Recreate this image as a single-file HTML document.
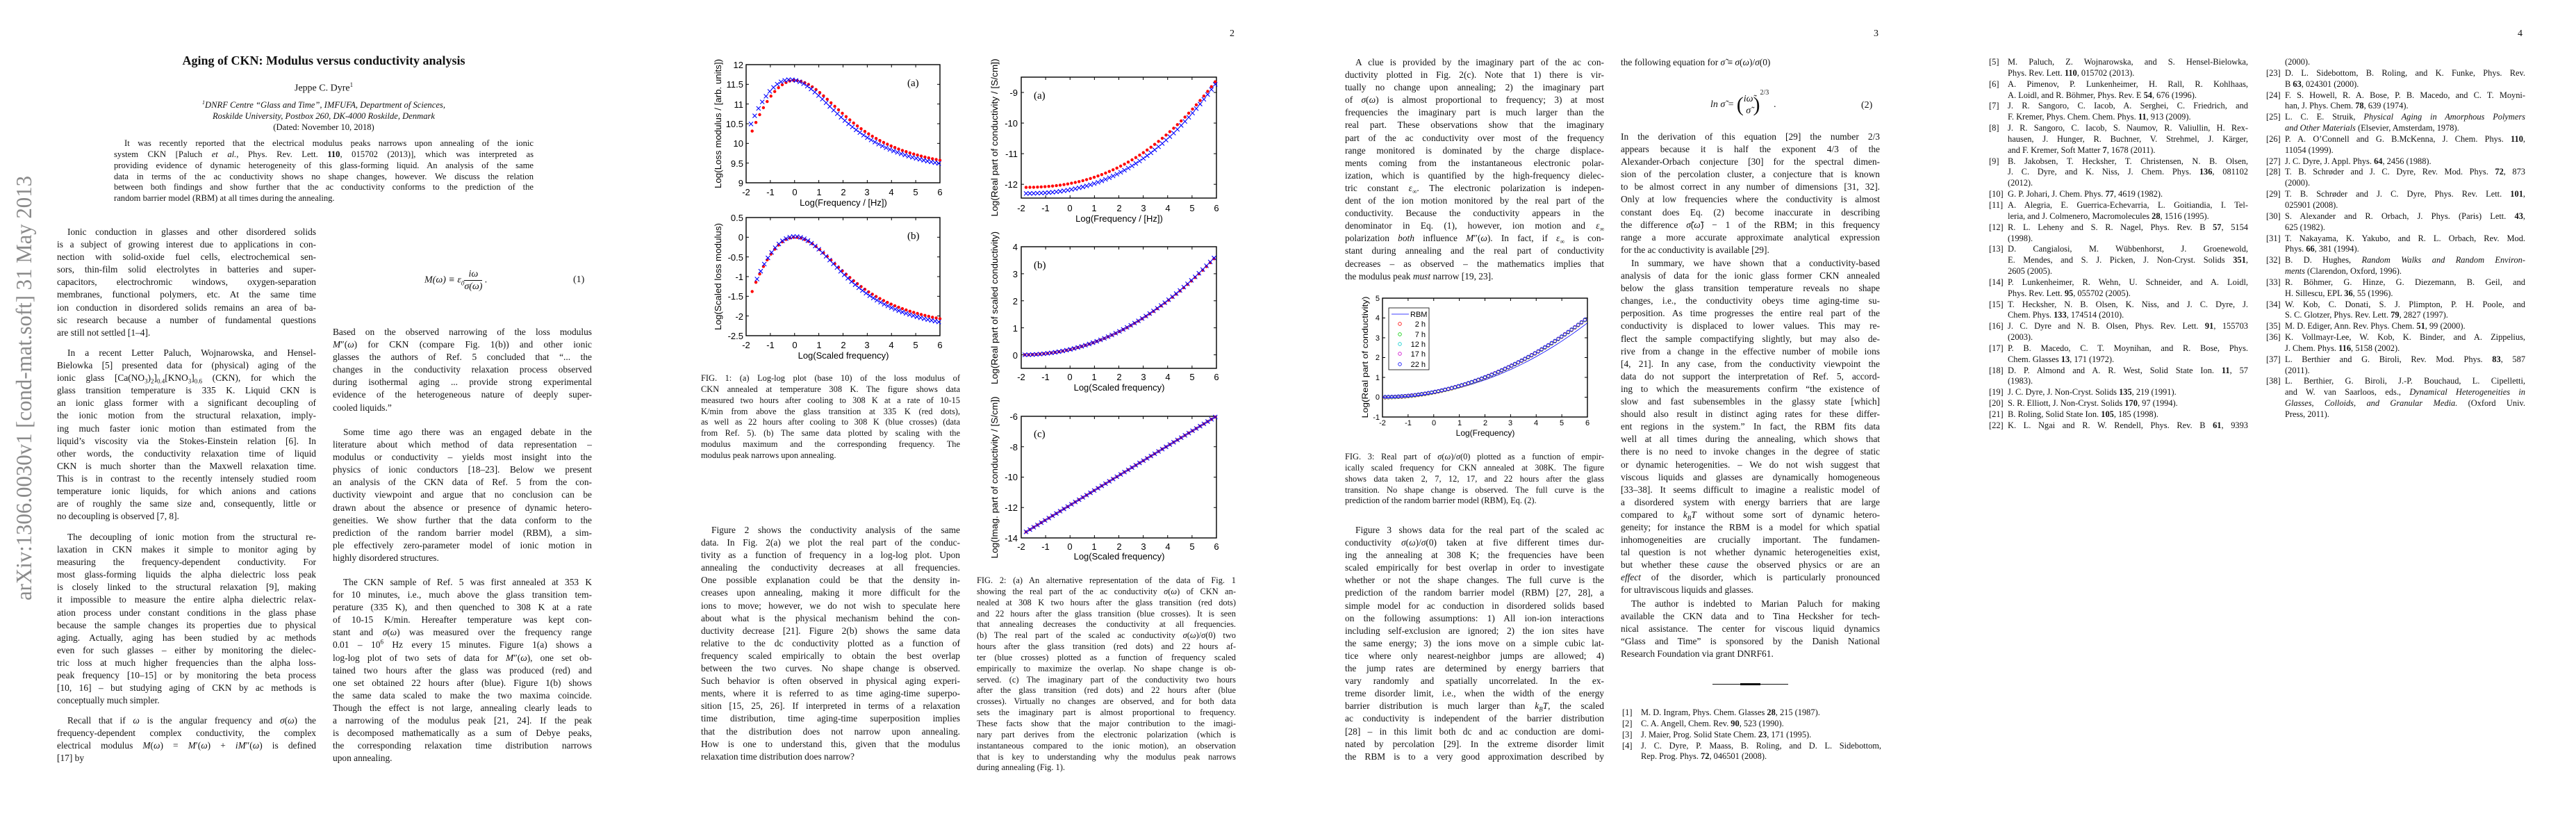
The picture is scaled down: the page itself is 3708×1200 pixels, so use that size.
<!DOCTYPE html>
<html><head><meta charset="utf-8">
<style>
html,body{margin:0;padding:0;background:#fff;}
body{width:3708px;height:1200px;position:relative;overflow:hidden;font-family:"Liberation Serif",serif;color:#111;}
.b{position:absolute;width:373px;font-size:13.4px;line-height:18.1px;}
.b div{text-align:justify;text-align-last:justify;white-space:normal;height:18.1px;overflow:visible;}
.b div.e{text-align-last:left;}
.b div.i{text-indent:15px;}
.c{position:absolute;width:373px;font-size:12.4px;line-height:15.85px;}
.c div{text-align:justify;text-align-last:justify;height:15.85px;}
.c div.e{text-align-last:left;}
.r{position:absolute;width:373px;font-size:12.4px;line-height:15.85px;}
.r div{padding-left:27px;position:relative;text-align:justify;text-align-last:justify;height:15.85px;}
.r div.e{text-align-last:left;}
.r div span.n{position:absolute;left:0;width:24px;text-align:right;}
.pn{position:absolute;font-size:14px;top:41px;}
i{font-style:italic;}
.eq{position:absolute;font-size:14px;font-style:italic;white-space:nowrap;}
.fr{display:inline-block;vertical-align:middle;text-align:center;}
.fr span{display:block;line-height:17px;}
.fr span.d{border-top:1px solid #111;}
</style></head><body>

<!-- PAGE 1 -->
<div style="position:absolute;left:0;top:77px;width:932px;text-align:center;font-size:18px;font-weight:bold;">Aging of CKN: Modulus versus conductivity analysis</div>
<div style="position:absolute;left:0;top:117px;width:932px;text-align:center;font-size:14px;">Jeppe C. Dyre<sup style="font-size:9px">1</sup></div>
<div style="position:absolute;left:0;top:140px;width:932px;text-align:center;font-size:12.6px;line-height:16px;"><i><sup style="font-size:8px">1</sup>DNRF Centre “Glass and Time”, IMFUFA, Department of Sciences,<br>Roskilde University, Postbox 260, DK-4000 Roskilde, Denmark</i><br>(Dated: November 10, 2018)</div>
<div class="c" style="left:164px;top:199px;width:604px;font-size:12.6px;line-height:15.7px;">
<div style="text-indent:15px">It was recently reported that the electrical modulus peaks narrows upon annealing of the ionic</div>
<div>system CKN [Paluch <i>et al.</i>, Phys. Rev. Lett. <b>110</b>, 015702 (2013)], which was interpreted as</div>
<div>providing evidence of dynamic heterogeneity of this glass-forming liquid. An analysis of the same</div>
<div>data in terms of the ac conductivity shows no shape changes, however. We discuss the relation</div>
<div>between both findings and show further that the ac conductivity conforms to the prediction of the</div>
<div class="e">random barrier model (RBM) at all times during the annealing.</div>
</div>

<div class="b" style="left:82px;top:325px;">
<div class="i">Ionic conduction in glasses and other disordered solids</div>
<div>is a subject of growing interest due to applications in con-</div>
<div>nection with solid-oxide fuel cells, electrochemical sen-</div>
<div>sors, thin-film solid electrolytes in batteries and super-</div>
<div>capacitors, electrochromic windows, oxygen-separation</div>
<div>membranes, functional polymers, etc. At the same time</div>
<div>ion conduction in disordered solids remains an area of ba-</div>
<div>sic research because a number of fundamental questions</div>
<div class="e">are still not settled [1–4].</div>
</div>
<div class="b" style="left:82px;top:499px;">
<div class="i">In a recent Letter Paluch, Wojnarowska, and Hensel-</div>
<div>Bielowka [5] presented data for (physical) aging of the</div>
<div>ionic glass [Ca(NO<sub style="font-size:9px">3</sub>)<sub style="font-size:9px">2</sub>]<sub style="font-size:9px">0.4</sub>[KNO<sub style="font-size:9px">3</sub>]<sub style="font-size:9px">0.6</sub> (CKN), for which the</div>
<div>glass transition temperature is 335 K. Liquid CKN is</div>
<div>an ionic glass former with a significant decoupling of</div>
<div>the ionic motion from the structural relaxation, imply-</div>
<div>ing much faster ionic motion than estimated from the</div>
<div>liquid’s viscosity via the Stokes-Einstein relation [6]. In</div>
<div>other words, the conductivity relaxation time of liquid</div>
<div>CKN is much shorter than the Maxwell relaxation time.</div>
<div>This is in contrast to the recently intensely studied room</div>
<div>temperature ionic liquids, for which anions and cations</div>
<div>are of roughly the same size and, consequently, little or</div>
<div class="e">no decoupling is observed [7, 8].</div>
</div>
<div class="b" style="left:82px;top:764px;">
<div class="i">The decoupling of ionic motion from the structural re-</div>
<div>laxation in CKN makes it simple to monitor aging by</div>
<div>measuring the frequency-dependent conductivity. For</div>
<div>most glass-forming liquids the alpha dielectric loss peak</div>
<div>is closely linked to the structural relaxation [9], making</div>
<div>it impossible to measure the entire alpha dielectric relax-</div>
<div>ation process under constant conditions in the glass phase</div>
<div>because the sample changes its properties due to physical</div>
<div>aging. Actually, aging has been studied by ac methods</div>
<div>even for such glasses – either by monitoring the dielec-</div>
<div>tric loss at much higher frequencies than the alpha loss-</div>
<div>peak frequency [10–15] or by monitoring the beta process</div>
<div>[10, 16] – but studying aging of CKN by ac methods is</div>
<div class="e">conceptually much simpler.</div>
</div>
<div class="b" style="left:82px;top:1028px;">
<div class="i">Recall that if <i>ω</i> is the angular frequency and <i>σ</i>(<i>ω</i>) the</div>
<div>frequency-dependent complex conductivity, the complex</div>
<div>electrical modulus <i>M</i>(<i>ω</i>) = <i>M</i>′(<i>ω</i>) + <i>iM</i>″(<i>ω</i>) is defined</div>
<div class="e">[17] by</div>
</div>

<div class="eq" style="left:611px;top:386px;">M(ω) ≡ ε<sub style="font-size:9px">0</sub><span class="fr"><span>iω</span><span class="d">σ(ω)</span></span> .</div>
<div style="position:absolute;left:825px;top:395px;font-size:14px;">(1)</div>

<div class="b" style="left:479px;top:469px;">
<div>Based on the observed narrowing of the loss modulus</div>
<div><i>M</i>″(<i>ω</i>) for CKN (compare Fig. 1(b)) and other ionic</div>
<div>glasses the authors of Ref. 5 concluded that “... the</div>
<div>changes in the conductivity relaxation process observed</div>
<div>during isothermal aging ... provide strong experimental</div>
<div>evidence of the heterogeneous nature of deeply super-</div>
<div class="e">cooled liquids.”</div>
</div>
<div class="b" style="left:479px;top:613px;">
<div class="i">Some time ago there was an engaged debate in the</div>
<div>literature about which method of data representation –</div>
<div>modulus or conductivity – yields most insight into the</div>
<div>physics of ionic conductors [18–23]. Below we present</div>
<div>an analysis of the CKN data of Ref. 5 from the con-</div>
<div>ductivity viewpoint and argue that no conclusion can be</div>
<div>drawn about the absence or presence of dynamic hetero-</div>
<div>geneities. We show further that the data conform to the</div>
<div>prediction of the random barrier model (RBM), a sim-</div>
<div>ple effectively zero-parameter model of ionic motion in</div>
<div class="e">highly disordered structures.</div>
</div>
<div class="b" style="left:479px;top:829px;">
<div class="i">The CKN sample of Ref. 5 was first annealed at 353 K</div>
<div>for 10 minutes, i.e., much above the glass transition tem-</div>
<div>perature (335 K), and then quenched to 308 K at a rate</div>
<div>of 10-15 K/min. Hereafter temperature was kept con-</div>
<div>stant and <i>σ</i>(<i>ω</i>) was measured over the frequency range</div>
<div>0.01 – 10<sup style="font-size:9px;line-height:0">6</sup> Hz every 15 minutes. Figure 1(a) shows a</div>
<div>log-log plot of two sets of data for <i>M</i>″(<i>ω</i>), one set ob-</div>
<div>tained two hours after the glass was produced (red) and</div>
<div>one set obtained 22 hours after (blue). Figure 1(b) shows</div>
<div>the same data scaled to make the two maxima coincide.</div>
<div>Though the effect is not large, annealing clearly leads to</div>
<div>a narrowing of the modulus peak [21, 24]. If the peak</div>
<div>is decomposed mathematically as a sum of Debye peaks,</div>
<div>the corresponding relaxation time distribution narrows</div>
<div class="e">upon annealing.</div>
</div>

<!-- PAGE 2 -->
<div class="pn" style="left:1770px;">2</div>
<div class="c" style="left:1009px;top:537px;">
<div>FIG. 1: (a) Log-log plot (base 10) of the loss modulus of</div>
<div>CKN annealed at temperature 308 K. The figure shows data</div>
<div>measured two hours after cooling to 308 K at a rate of 10-15</div>
<div>K/min from above the glass transition at 335 K (red dots),</div>
<div>as well as 22 hours after cooling to 308 K (blue crosses) (data</div>
<div>from Ref. 5). (b) The same data plotted by scaling with the</div>
<div>modulus maximum and the corresponding frequency. The</div>
<div class="e">modulus peak narrows upon annealing.</div>
</div>
<div class="b" style="left:1009px;top:754px;">
<div class="i">Figure 2 shows the conductivity analysis of the same</div>
<div>data. In Fig. 2(a) we plot the real part of the conduc-</div>
<div>tivity as a function of frequency in a log-log plot. Upon</div>
<div>annealing the conductivity decreases at all frequencies.</div>
<div>One possible explanation could be that the density in-</div>
<div>creases upon annealing, making it more difficult for the</div>
<div>ions to move; however, we do not wish to speculate here</div>
<div>about what is the physical mechanism behind the con-</div>
<div>ductivity decrease [21]. Figure 2(b) shows the same data</div>
<div>relative to the dc conductivity plotted as a function of</div>
<div>frequency scaled empirically to obtain the best overlap</div>
<div>between the two curves. No shape change is observed.</div>
<div>Such behavior is often observed in physical aging experi-</div>
<div>ments, where it is referred to as time aging-time superpo-</div>
<div>sition [15, 25, 26]. If interpreted in terms of a relaxation</div>
<div>time distribution, time aging-time superposition implies</div>
<div>that the distribution does not narrow upon annealing.</div>
<div>How is one to understand this, given that the modulus</div>
<div class="e">relaxation time distribution does narrow?</div>
</div>
<div class="c" style="left:1406px;top:828px;">
<div>FIG. 2: (a) An alternative representation of the data of Fig. 1</div>
<div>showing the real part of the ac conductivity <i>σ</i>(<i>ω</i>) of CKN an-</div>
<div>nealed at 308 K two hours after the glass transition (red dots)</div>
<div>and 22 hours after the glass transition (blue crosses). It is seen</div>
<div>that annealing decreases the conductivity at all frequencies.</div>
<div>(b) The real part of the scaled ac conductivity <i>σ</i>(<i>ω</i>)/<i>σ</i>(0) two</div>
<div>hours after the glass transition (red dots) and 22 hours af-</div>
<div>ter (blue crosses) plotted as a function of frequency scaled</div>
<div>empirically to maximize the overlap. No shape change is ob-</div>
<div>served. (c) The imaginary part of the conductivity two hours</div>
<div>after the glass transition (red dots) and 22 hours after (blue</div>
<div>crosses). Virtually no changes are observed, and for both data</div>
<div>sets the imaginary part is almost proportional to frequency.</div>
<div>These facts show that the major contribution to the imagi-</div>
<div>nary part derives from the electronic polarization (which is</div>
<div>instantaneous compared to the ionic motion), an observation</div>
<div>that is key to understanding why the modulus peak narrows</div>
<div class="e">during annealing (Fig. 1).</div>
</div>

<!-- PAGE 3 -->
<div class="pn" style="left:2697px;">3</div>
<div class="b" style="left:1936px;top:81px;">
<div class="i">A clue is provided by the imaginary part of the ac con-</div>
<div>ductivity plotted in Fig. 2(c). Note that 1) there is vir-</div>
<div>tually no change upon annealing; 2) the imaginary part</div>
<div>of <i>σ</i>(<i>ω</i>) is almost proportional to frequency; 3) at most</div>
<div>frequencies the imaginary part is much larger than the</div>
<div>real part. These observations show that the imaginary</div>
<div>part of the ac conductivity over most of the frequency</div>
<div>range monitored is dominated by the charge displace-</div>
<div>ments coming from the instantaneous electronic polar-</div>
<div>ization, which is quantified by the high-frequency dielec-</div>
<div>tric constant <i>ε</i><sub style="font-size:9px">∞</sub>. The electronic polarization is indepen-</div>
<div>dent of the ion motion monitored by the real part of the</div>
<div>conductivity. Because the conductivity appears in the</div>
<div>denominator in Eq. (1), however, ion motion and <i>ε</i><sub style="font-size:9px">∞</sub></div>
<div>polarization <i>both</i> influence <i>M</i>″(<i>ω</i>). In fact, if <i>ε</i><sub style="font-size:9px">∞</sub> is con-</div>
<div>stant during annealing and the real part of conductivity</div>
<div>decreases – as observed – the mathematics implies that</div>
<div class="e">the modulus peak <i>must</i> narrow [19, 23].</div>
</div>
<div class="c" style="left:1936px;top:650px;">
<div>FIG. 3: Real part of <i>σ</i>(<i>ω</i>)/<i>σ</i>(0) plotted as a function of empir-</div>
<div>ically scaled frequency for CKN annealed at 308K. The figure</div>
<div>shows data taken 2, 7, 12, 17, and 22 hours after the glass</div>
<div>transition. No shape change is observed. The full curve is the</div>
<div class="e">prediction of the random barrier model (RBM), Eq. (2).</div>
</div>
<div class="b" style="left:1936px;top:754px;">
<div class="i">Figure 3 shows data for the real part of the scaled ac</div>
<div>conductivity <i>σ</i>(<i>ω</i>)/<i>σ</i>(0) taken at five different times dur-</div>
<div>ing the annealing at 308 K; the frequencies have been</div>
<div>scaled empirically for best overlap in order to investigate</div>
<div>whether or not the shape changes. The full curve is the</div>
<div>prediction of the random barrier model (RBM) [27, 28], a</div>
<div>simple model for ac conduction in disordered solids based</div>
<div>on the following assumptions: 1) All ion-ion interactions</div>
<div>including self-exclusion are ignored; 2) the ion sites have</div>
<div>the same energy; 3) the ions move on a simple cubic lat-</div>
<div>tice where only nearest-neighbor jumps are allowed; 4)</div>
<div>the jump rates are determined by energy barriers that</div>
<div>vary randomly and spatially uncorrelated. In the ex-</div>
<div>treme disorder limit, i.e., when the width of the energy</div>
<div>barrier distribution is much larger than <i>k<sub style="font-size:9px">B</sub>T</i>, the scaled</div>
<div>ac conductivity is independent of the barrier distribution</div>
<div>[28] – in this limit both dc and ac conduction are domi-</div>
<div>nated by percolation [29]. In the extreme disorder limit</div>
<div>the RBM is to a very good approximation described by</div>
</div>
<div class="b" style="left:2333px;top:81px;">
<div class="e">the following equation for <i>σ̃</i> ≡ <i>σ</i>(<i>ω</i>)/<i>σ</i>(0)</div>
</div>
<div class="eq" style="left:2462px;top:128px;">ln σ̃ = <span style="font-size:30px;font-style:normal;vertical-align:middle">(</span><span class="fr"><span>iω̃</span><span class="d" style="border:none">σ̃</span></span><span style="font-size:30px;font-style:normal;vertical-align:middle">)</span><sup style="font-size:10px;font-style:normal;vertical-align:18px">2/3</sup> &nbsp;.</div>
<div style="position:absolute;left:2679px;top:144px;font-size:14px;">(2)</div>
<div class="b" style="left:2333px;top:188px;">
<div>In the derivation of this equation [29] the number 2/3</div>
<div>appears because it is half the exponent 4/3 of the</div>
<div>Alexander-Orbach conjecture [30] for the spectral dimen-</div>
<div>sion of the percolation cluster, a conjecture that is known</div>
<div>to be almost correct in any number of dimensions [31, 32].</div>
<div>Only at low frequencies where the conductivity is almost</div>
<div>constant does Eq. (2) become inaccurate in describing</div>
<div>the difference <i>σ̃</i>(<i>ω̃</i>) − 1 of the RBM; in this frequency</div>
<div>range a more accurate approximate analytical expression</div>
<div class="e">for the ac conductivity is available [29].</div>
</div>
<div class="b" style="left:2333px;top:370px;">
<div class="i">In summary, we have shown that a conductivity-based</div>
<div>analysis of data for the ionic glass former CKN annealed</div>
<div>below the glass transition temperature reveals no shape</div>
<div>changes, i.e., the conductivity obeys time aging-time su-</div>
<div>perposition. As time progresses the entire real part of the</div>
<div>conductivity is displaced to lower values. This may re-</div>
<div>flect the sample compactifying slightly, but may also de-</div>
<div>rive from a change in the effective number of mobile ions</div>
<div>[4, 21]. In any case, from the conductivity viewpoint the</div>
<div>data do not support the interpretation of Ref. 5, accord-</div>
<div>ing to which the measurements confirm “the existence of</div>
<div>slow and fast subensembles in the glassy state [which]</div>
<div>should also result in distinct aging rates for these differ-</div>
<div>ent regions in the system.” In fact, the RBM fits data</div>
<div>well at all times during the annealing, which shows that</div>
<div>there is no need to invoke changes in the degree of static</div>
<div>or dynamic heterogenities. – We do not wish suggest that</div>
<div>viscous liquids and glasses are dynamically homogeneous</div>
<div>[33–38]. It seems difficult to imagine a realistic model of</div>
<div>a disordered system with energy barriers that are large</div>
<div>compared to <i>k<sub style="font-size:9px">B</sub>T</i> without some sort of dynamic hetero-</div>
<div>geneity; for instance the RBM is a model for which spatial</div>
<div>inhomogeneities are crucially important. The fundamen-</div>
<div>tal question is not whether dynamic heterogeneities exist,</div>
<div>but whether these <i>cause</i> the observed physics or are an</div>
<div><i>effect</i> of the disorder, which is particularly pronounced</div>
<div class="e">for ultraviscous liquids and glasses.</div>
</div>
<div class="b" style="left:2333px;top:860px;">
<div class="i">The author is indebted to Marian Paluch for making</div>
<div>available the CKN data and to Tina Hecksher for tech-</div>
<div>nical assistance. The center for viscous liquid dynamics</div>
<div>“Glass and Time” is sponsored by the Danish National</div>
<div class="e">Research Foundation via grant DNRF61.</div>
</div>
<div style="position:absolute;left:2465px;top:984px;width:109px;height:1px;background:#111;"></div>
<div style="position:absolute;left:2505px;top:983px;width:29px;height:3px;background:#111;"></div>
<div class="r" style="left:2335px;top:1018px;">
<div class="e"><span class="n">[1]</span>M. D. Ingram, Phys. Chem. Glasses <b>28</b>, 215 (1987).</div>
<div class="e"><span class="n">[2]</span>C. A. Angell, Chem. Rev. <b>90</b>, 523 (1990).</div>
<div class="e"><span class="n">[3]</span>J. Maier, Prog. Solid State Chem. <b>23</b>, 171 (1995).</div>
<div><span class="n">[4]</span>J. C. Dyre, P. Maass, B. Roling, and D. L. Sidebottom,</div>
<div class="e">Rep. Prog. Phys. <b>72</b>, 046501 (2008).</div>
</div>

<!-- PAGE 4 -->
<div class="pn" style="left:3624px;">4</div>
<div class="r" style="left:2863px;top:82px;">
<div><span class="n">[5]</span>M. Paluch, Z. Wojnarowska, and S. Hensel-Bielowka,</div>
<div class="e">Phys. Rev. Lett. <b>110</b>, 015702 (2013).</div>
<div><span class="n">[6]</span>A. Pimenov, P. Lunkenheimer, H. Rall, R. Kohlhaas,</div>
<div class="e">A. Loidl, and R. Böhmer, Phys. Rev. E <b>54</b>, 676 (1996).</div>
<div><span class="n">[7]</span>J. R. Sangoro, C. Iacob, A. Serghei, C. Friedrich, and</div>
<div class="e">F. Kremer, Phys. Chem. Chem. Phys. <b>11</b>, 913 (2009).</div>
<div><span class="n">[8]</span>J. R. Sangoro, C. Iacob, S. Naumov, R. Valiullin, H. Rex-</div>
<div>hausen, J. Hunger, R. Buchner, V. Strehmel, J. Kärger,</div>
<div class="e">and F. Kremer, Soft Matter <b>7</b>, 1678 (2011).</div>
<div><span class="n">[9]</span>B. Jakobsen, T. Hecksher, T. Christensen, N. B. Olsen,</div>
<div>J. C. Dyre, and K. Niss, J. Chem. Phys. <b>136</b>, 081102</div>
<div class="e">(2012).</div>
<div class="e"><span class="n">[10]</span>G. P. Johari, J. Chem. Phys. <b>77</b>, 4619 (1982).</div>
<div><span class="n">[11]</span>A. Alegria, E. Guerrica-Echevarria, L. Goitiandia, I. Tel-</div>
<div class="e">leria, and J. Colmenero, Macromolecules <b>28</b>, 1516 (1995).</div>
<div><span class="n">[12]</span>R. L. Leheny and S. R. Nagel, Phys. Rev. B <b>57</b>, 5154</div>
<div class="e">(1998).</div>
<div><span class="n">[13]</span>D. Cangialosi, M. Wübbenhorst, J. Groenewold,</div>
<div>E. Mendes, and S. J. Picken, J. Non-Cryst. Solids <b>351</b>,</div>
<div class="e">2605 (2005).</div>
<div><span class="n">[14]</span>P. Lunkenheimer, R. Wehn, U. Schneider, and A. Loidl,</div>
<div class="e">Phys. Rev. Lett. <b>95</b>, 055702 (2005).</div>
<div><span class="n">[15]</span>T. Hecksher, N. B. Olsen, K. Niss, and J. C. Dyre, J.</div>
<div class="e">Chem. Phys. <b>133</b>, 174514 (2010).</div>
<div><span class="n">[16]</span>J. C. Dyre and N. B. Olsen, Phys. Rev. Lett. <b>91</b>, 155703</div>
<div class="e">(2003).</div>
<div><span class="n">[17]</span>P. B. Macedo, C. T. Moynihan, and R. Bose, Phys.</div>
<div class="e">Chem. Glasses <b>13</b>, 171 (1972).</div>
<div><span class="n">[18]</span>D. P. Almond and A. R. West, Solid State Ion. <b>11</b>, 57</div>
<div class="e">(1983).</div>
<div class="e"><span class="n">[19]</span>J. C. Dyre, J. Non-Cryst. Solids <b>135</b>, 219 (1991).</div>
<div class="e"><span class="n">[20]</span>S. R. Elliott, J. Non-Cryst. Solids <b>170</b>, 97 (1994).</div>
<div class="e"><span class="n">[21]</span>B. Roling, Solid State Ion. <b>105</b>, 185 (1998).</div>
<div><span class="n">[22]</span>K. L. Ngai and R. W. Rendell, Phys. Rev. B <b>61</b>, 9393</div>
</div>
<div class="r" style="left:3262px;top:82px;">
<div class="e">(2000).</div>
<div><span class="n">[23]</span>D. L. Sidebottom, B. Roling, and K. Funke, Phys. Rev.</div>
<div class="e">B <b>63</b>, 024301 (2000).</div>
<div><span class="n">[24]</span>F. S. Howell, R. A. Bose, P. B. Macedo, and C. T. Moyni-</div>
<div class="e">han, J. Phys. Chem. <b>78</b>, 639 (1974).</div>
<div><span class="n">[25]</span>L. C. E. Struik, <i>Physical Aging in Amorphous Polymers</i></div>
<div class="e"><i>and Other Materials</i> (Elsevier, Amsterdam, 1978).</div>
<div><span class="n">[26]</span>P. A. O’Connell and G. B.McKenna, J. Chem. Phys. <b>110</b>,</div>
<div class="e">11054 (1999).</div>
<div class="e"><span class="n">[27]</span>J. C. Dyre, J. Appl. Phys. <b>64</b>, 2456 (1988).</div>
<div><span class="n">[28]</span>T. B. Schrøder and J. C. Dyre, Rev. Mod. Phys. <b>72</b>, 873</div>
<div class="e">(2000).</div>
<div><span class="n">[29]</span>T. B. Schrøder and J. C. Dyre, Phys. Rev. Lett. <b>101</b>,</div>
<div class="e">025901 (2008).</div>
<div><span class="n">[30]</span>S. Alexander and R. Orbach, J. Phys. (Paris) Lett. <b>43</b>,</div>
<div class="e">625 (1982).</div>
<div><span class="n">[31]</span>T. Nakayama, K. Yakubo, and R. L. Orbach, Rev. Mod.</div>
<div class="e">Phys. <b>66</b>, 381 (1994).</div>
<div><span class="n">[32]</span>B. D. Hughes, <i>Random Walks and Random Environ-</i></div>
<div class="e"><i>ments</i> (Clarendon, Oxford, 1996).</div>
<div><span class="n">[33]</span>R. Böhmer, G. Hinze, G. Diezemann, B. Geil, and</div>
<div class="e">H. Sillescu, EPL <b>36</b>, 55 (1996).</div>
<div><span class="n">[34]</span>W. Kob, C. Donati, S. J. Plimpton, P. H. Poole, and</div>
<div class="e">S. C. Glotzer, Phys. Rev. Lett. <b>79</b>, 2827 (1997).</div>
<div class="e"><span class="n">[35]</span>M. D. Ediger, Ann. Rev. Phys. Chem. <b>51</b>, 99 (2000).</div>
<div><span class="n">[36]</span>K. Vollmayr-Lee, W. Kob, K. Binder, and A. Zippelius,</div>
<div class="e">J. Chem. Phys. <b>116</b>, 5158 (2002).</div>
<div><span class="n">[37]</span>L. Berthier and G. Biroli, Rev. Mod. Phys. <b>83</b>, 587</div>
<div class="e">(2011).</div>
<div><span class="n">[38]</span>L. Berthier, G. Biroli, J.-P. Bouchaud, L. Cipelletti,</div>
<div>and W. van Saarloos, eds., <i>Dynamical Heterogeneities in</i></div>
<div><i>Glasses, Colloids, and Granular Media.</i> (Oxford Univ.</div>
<div class="e">Press, 2011).</div>
</div>

<!-- FIGURES & SIDEBAR -->
<svg id="S" width="3708" height="1200" style="position:absolute;left:0;top:0" xmlns="http://www.w3.org/2000/svg">
<text transform="translate(45,864) rotate(-90)" textLength="611" lengthAdjust="spacingAndGlyphs" font-family="Liberation Serif" font-size="32" fill="#8a8a8a">arXiv:1306.0030v1  [cond-mat.soft]  31 May 2013</text>
<g id="M"></g>
<g font-family="Liberation Sans" font-size="13" fill="#000">
<!-- 1a -->
<g text-anchor="end"><text x="1070" y="98">12</text><text x="1070" y="126">11.5</text><text x="1070" y="155">11</text><text x="1070" y="183">10.5</text><text x="1070" y="211">10</text><text x="1070" y="240">9.5</text><text x="1070" y="268">9</text></g>
<g text-anchor="middle"><text x="1074" y="281">-2</text><text x="1109" y="281">-1</text><text x="1144" y="281">0</text><text x="1179" y="281">1</text><text x="1214" y="281">2</text><text x="1248" y="281">3</text><text x="1283" y="281">4</text><text x="1318" y="281">5</text><text x="1353" y="281">6</text>
<text x="1214" y="296">Log(Frequency / [Hz])</text>
<text transform="translate(1038,178) rotate(-90)" textLength="186" lengthAdjust="spacingAndGlyphs">Log(Loss modulus / [arb. units])</text></g>
<text x="1306" y="124" font-family="Liberation Serif" font-size="15">(a)</text>
<!-- 1b -->
<g text-anchor="end"><text x="1070" y="318">0.5</text><text x="1070" y="346">0</text><text x="1070" y="375">-0.5</text><text x="1070" y="403">-1</text><text x="1070" y="431">-1.5</text><text x="1070" y="460">-2</text><text x="1070" y="488">-2.5</text></g>
<g text-anchor="middle"><text x="1074" y="501">-2</text><text x="1109" y="501">-1</text><text x="1144" y="501">0</text><text x="1179" y="501">1</text><text x="1214" y="501">2</text><text x="1248" y="501">3</text><text x="1283" y="501">4</text><text x="1318" y="501">5</text><text x="1353" y="501">6</text>
<text x="1214" y="516">Log(Scaled frequency)</text>
<text transform="translate(1038,398) rotate(-90)" textLength="154" lengthAdjust="spacingAndGlyphs">Log(Scaled loss modulus)</text></g>
<text x="1306" y="344" font-family="Liberation Serif" font-size="15">(b)</text>
<!-- 2a -->
<g text-anchor="end"><text x="1465" y="138">-9</text><text x="1465" y="182">-10</text><text x="1465" y="226">-11</text><text x="1465" y="270">-12</text></g>
<g text-anchor="middle"><text x="1470" y="304">-2</text><text x="1505" y="304">-1</text><text x="1540" y="304">0</text><text x="1575" y="304">1</text><text x="1611" y="304">2</text><text x="1646" y="304">3</text><text x="1681" y="304">4</text><text x="1716" y="304">5</text><text x="1751" y="304">6</text>
<text x="1611" y="319">Log(Frequency / [Hz])</text>
<text transform="translate(1436,198) rotate(-90)" textLength="227" lengthAdjust="spacingAndGlyphs">Log(Real part of conductivity / [S/cm])</text></g>
<text x="1488" y="142" font-family="Liberation Serif" font-size="15">(a)</text>
<!-- 2b -->
<g text-anchor="end"><text x="1465" y="360">4</text><text x="1465" y="399">3</text><text x="1465" y="438">2</text><text x="1465" y="477">1</text><text x="1465" y="516">0</text></g>
<g text-anchor="middle"><text x="1470" y="547">-2</text><text x="1505" y="547">-1</text><text x="1540" y="547">0</text><text x="1575" y="547">1</text><text x="1611" y="547">2</text><text x="1646" y="547">3</text><text x="1681" y="547">4</text><text x="1716" y="547">5</text><text x="1751" y="547">6</text>
<text x="1611" y="562">Log(Scaled frequency)</text>
<text transform="translate(1436,443) rotate(-90)" textLength="220" lengthAdjust="spacingAndGlyphs">Log(Real part of scaled conductivity)</text></g>
<text x="1488" y="386" font-family="Liberation Serif" font-size="15">(b)</text>
<!-- 2c -->
<g text-anchor="end"><text x="1465" y="604">-6</text><text x="1465" y="648">-8</text><text x="1465" y="691">-10</text><text x="1465" y="735">-12</text><text x="1465" y="779">-14</text></g>
<g text-anchor="middle"><text x="1470" y="791">-2</text><text x="1505" y="791">-1</text><text x="1540" y="791">0</text><text x="1575" y="791">1</text><text x="1611" y="791">2</text><text x="1646" y="791">3</text><text x="1681" y="791">4</text><text x="1716" y="791">5</text><text x="1751" y="791">6</text>
<text x="1611" y="805">Log(Scaled frequency)</text>
<text transform="translate(1436,687) rotate(-90)" textLength="233" lengthAdjust="spacingAndGlyphs">Log(Imag. part of conductivity / [S/cm])</text></g>
<text x="1488" y="629" font-family="Liberation Serif" font-size="15">(c)</text>
<!-- 3 -->
<g font-size="11"><g text-anchor="end"><text x="1986" y="433">5</text><text x="1986" y="461">4</text><text x="1986" y="490">3</text><text x="1986" y="518">2</text><text x="1986" y="547">1</text><text x="1986" y="575">0</text><text x="1986" y="604">-1</text></g>
<g text-anchor="middle"><text x="1990" y="612">-2</text><text x="2027" y="612">-1</text><text x="2064" y="612">0</text><text x="2101" y="612">1</text><text x="2138" y="612">2</text><text x="2174" y="612">3</text><text x="2211" y="612">4</text><text x="2248" y="612">5</text><text x="2285" y="612">6</text>
<text x="2138" y="627" font-size="12">Log(Frequency)</text>
<text transform="translate(1969,514) rotate(-90)" font-size="12" textLength="175" lengthAdjust="spacingAndGlyphs">Log(Real part of conductivity)</text></g>
<rect x="1999" y="443" width="58" height="89" fill="#fff" stroke="#000" stroke-width="0.8"/>
<line x1="2003" y1="452" x2="2028" y2="452" stroke="#00f" stroke-width="0.8"/>
<text x="2030" y="456">RBM</text>
<g text-anchor="end"><text x="2052" y="470">2 h</text><text x="2052" y="485">7 h</text><text x="2052" y="499">12 h</text><text x="2052" y="513">17 h</text><text x="2052" y="528">22 h</text></g>
<g fill="none" stroke-width="0.8"><circle cx="2015" cy="466" r="2.3" stroke="#f00"/><circle cx="2015" cy="481" r="2.3" stroke="#0c0"/><circle cx="2015" cy="495" r="2.3" stroke="#0cc"/><circle cx="2015" cy="509" r="2.3" stroke="#c0c"/><circle cx="2015" cy="524" r="2.3" stroke="#00f"/></g>
</g>
</g>
</svg>
<script>
(function(){
var NS="http://www.w3.org/2000/svg",G=document.getElementById("M"),h="";
function P(x0,x1,y0,y1,ya,yb,yt){
 var p={X:function(x){return x0+(x+2)/8*(x1-x0)},Y:function(y){return y1-(y-ya)/(yb-ya)*(y1-y0)}};
 h+='<rect x="'+x0+'" y="'+y0+'" width="'+(x1-x0)+'" height="'+(y1-y0)+'" fill="none" stroke="#000" stroke-width="1.4"/>';
 for(var v=-2;v<=6;v++){var x=p.X(v);h+='<line x1="'+x+'" y1="'+y1+'" x2="'+x+'" y2="'+(y1-4)+'" stroke="#000"/><line x1="'+x+'" y1="'+y0+'" x2="'+x+'" y2="'+(y0+4)+'" stroke="#000"/>';}
 yt.forEach(function(v){var y=p.Y(v);h+='<line x1="'+x0+'" y1="'+y+'" x2="'+(x0+4)+'" y2="'+y+'" stroke="#000"/><line x1="'+x1+'" y1="'+y+'" x2="'+(x1-4)+'" y2="'+y+'" stroke="#000"/>';});
 return p;}
function dot(p,x,y){h+='<circle cx="'+p.X(x).toFixed(1)+'" cy="'+p.Y(y).toFixed(1)+'" r="2.2" fill="#f00"/>';}
function crs(p,x,y){var a=p.X(x),b=p.Y(y),s=3;h+='<path d="M'+(a-s)+' '+(b-s)+'L'+(a+s)+' '+(b+s)+'M'+(a-s)+' '+(b+s)+'L'+(a+s)+' '+(b-s)+'" stroke="#00f" stroke-width="1.1"/>';}
function pk(x,x0,pv,L,D,c){var d=x-x0;return d<0?pv-L*d*d:pv-D*d*d/(d*d+c);}
var x;
var a=P(1074,1353,93,263,9,12,[9,9.5,10,10.5,11,11.5,12]);
for(x=-1.75;x<=6.01;x+=0.155){dot(a,x,pk(x,0,11.6,0.42,2.45,7.5));}
for(x=-1.8;x<=6.01;x+=0.155){crs(a,x,pk(x,-0.2,11.62,0.44,2.55,7.5));}
var b=P(1074,1353,313,483,-2.5,0.5,[-2.5,-2,-1.5,-1,-0.5,0,0.5]);
for(x=-1.75;x<=6.01;x+=0.155){dot(b,x,pk(x,0,0,0.45,2.5,7.5));}
for(x=-1.55;x<=6.01;x+=0.15){crs(b,x,pk(x,0,0.02,0.45,2.6,7));}
var c=P(1470,1751,111,285,-12.45,-8.5,[-12,-11,-10,-9]);
for(x=-1.8;x<=6.01;x+=0.155){dot(c,x,-12.1+3.5*Math.pow((x+2)/8,2.4));}
for(x=-1.8;x<=6.01;x+=0.155){crs(c,x,-12.3+3.62*Math.pow((x+2)/8,2.45));}
var d=P(1470,1751,355,530,-0.5,4,[0,1,2,3,4]);
for(x=-1.85;x<=6.01;x+=0.155){dot(d,x,3.65*Math.pow((x+2)/8,2.1));}
for(x=-1.85;x<=6.01;x+=0.155){crs(d,x,3.68*Math.pow((x+2)/8,2.1));}
var e=P(1470,1751,599,774,-14,-6,[-14,-12,-10,-8,-6]);
for(x=-1.8;x<=6.01;x+=0.155){dot(e,x,-13.6+(x+1.8)*0.975);}
for(x=-1.8;x<=6.01;x+=0.155){crs(e,x,-13.6+(x+1.8)*0.975);}
var f=P(1990,2285,429,600,-1,5,[-1,0,1,2,3,4,5]);
var pts="";for(x=-2;x<=6.01;x+=0.1){pts+=f.X(x).toFixed(1)+","+f.Y(3.75*Math.pow((x+2)/8,2.1)).toFixed(1)+" ";}
h+='<polyline points="'+pts+'" fill="none" stroke="#00f" stroke-width="0.8"/>';
["#f00","#0c0","#0cc","#c0c","#00f"].forEach(function(col,k){
 for(x=-1.9;x<=6.01;x+=0.13){var y=4*Math.pow((x+2)/8,2)+(k-2)*0.01;if(k==0&&x>5.9)y=4.5;
 h+='<circle cx="'+f.X(x).toFixed(1)+'" cy="'+f.Y(y).toFixed(1)+'" r="2.3" fill="none" stroke="'+col+'" stroke-width="0.7"/>';}});
G.innerHTML=h;
})();
</script>
</body></html>
